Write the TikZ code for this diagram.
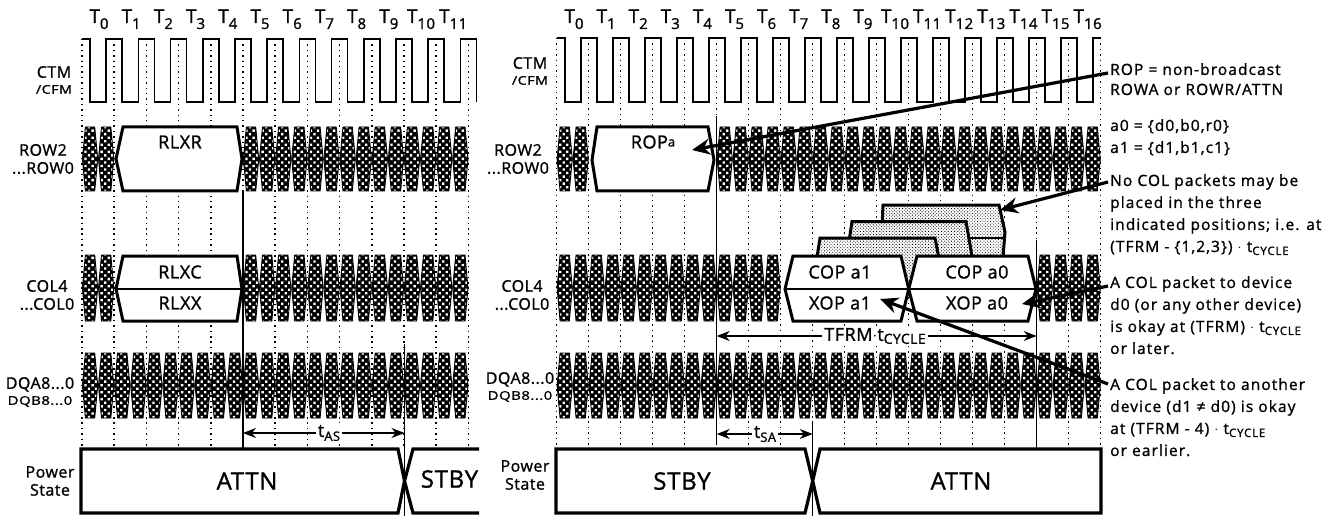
\documentclass[tikz,border=0pt]{standalone}
\usepackage{fontspec}
\usepackage{graphicx}
\setmainfont{Open Sans}[LetterSpace=3,FakeBold=1.2]
\usetikzlibrary{arrows.meta, patterns.meta}
\newcommand{\tsub}[1]{\raisebox{-6pt}{\fontsize{15pt}{15pt}\selectfont #1}}
\newcommand{\cyc}[1]{\raisebox{-3pt}{\fontsize{#1}{#1}\selectfont CYCLE}}
\newcommand{\squash}[2]{\scalebox{#1}[1]{\fontsize{12pt}{12pt}\selectfont #2}}
% one row of bus eyes: start, half period, top, bottom, list of eyes
\newcommand{\eyerow}[5]{%
  \foreach \k in {#5} {
    \pgfmathsetmacro{\xa}{#1+\k*#2}
    \draw[eye=\xa] ({\xa+0.4},{(#3+#4)/2}) -- ({\xa+3.4},#3) -- ({\xa+#2-3.4},#3) -- ({\xa+#2-0.4},{(#3+#4)/2}) -- ({\xa+#2-3.4},#4) -- ({\xa+3.4},#4) -- cycle;
  }}
\begin{document}
\begin{tikzpicture}[
    x=1pt, y=-1pt,
    base/.style={inner sep=0pt, align=center, font=\fontsize{16pt}{18pt}\selectfont},
    sig/.style={base},
    tick/.style={inner sep=0pt, anchor=base, font=\fontsize{19pt}{19pt}\selectfont},
    pkt/.style={inner sep=0pt, font=\fontsize{18pt}{18pt}\selectfont},
    state/.style={inner sep=0pt, font=\fontsize{24pt}{24pt}\selectfont},
    note/.style={inner sep=0pt, anchor=north west, align=left, font=\fontsize{15.5pt}{22pt}\selectfont\addfontfeature{LetterSpace=7}},
    gridline/.style={line width=1.5pt, dash pattern=on 1.5pt off 3.9pt},
    clock/.style={line width=1.6pt},
    eye/.style={draw=black, line width=0.9pt, preaction={fill=black}, pattern={Dots[radius=1.65pt, distance=5pt, angle=45, xshift=#1pt]}, pattern color=white},
    packet/.style={draw=black, line width=3pt, fill=white, line join=miter},
    shadebox/.style={draw=black, line width=3pt, preaction={fill=white}, pattern={Dots[radius=0.6pt, distance=2.3pt, angle=45]}, pattern color=black},
    power/.style={draw=black, line width=3.2pt, fill=white, line join=miter},
    edgeline/.style={line width=1.2pt},
    halfspan/.style={-{Stealth[length=13pt, width=10pt]}, line width=1.3pt},
    pointer/.style={-{Stealth[length=18pt, width=16pt]}, line width=3.2pt}
]
    \useasboundingbox (0,0) rectangle (1326,516);

    % --- LEFT PANEL: GRID AND CLOCK ---
    \foreach \i in {0,...,12} {
        \draw[gridline] ({82+\i*32.2},39) -- ({82+\i*32.2},449);
    }
    \foreach \i in {0,...,11} {
        \node[tick] (lt\i) at ({99+\i*32.2},23) {T\tsub{\i}};
    }
    \draw[clock] (82,39) -- (90,39) -- (90,102)
        \foreach \i in {1,...,12} { -- ({74+\i*32.2},102) -- ({74+\i*32.2},39) -- ({90+\i*32.2},39) -- ({90+\i*32.2},102) };

    % --- LEFT PANEL: BUSES ---
    \eyerow{82}{16.1}{127}{191}{0,1,10,11,...,23}
    \eyerow{82}{16.1}{255}{321}{0,1,10,11,...,23}
    \eyerow{82}{16.1}{353}{418}{0,1,...,23}

    \draw[packet] (116,159) -- (123,127) -- (237,127) -- (242,159) -- (237,191) -- (123,191) -- cycle;
    \node[pkt] (rlxr) at (180,142) {RLXR};
    \draw[packet] (116,289) -- (123,256) -- (237,256) -- (242,289) -- (237,321) -- (123,321) -- cycle;
    \draw[line width=1.2pt] (116,289) -- (242,289);
    \node[pkt] (rlxc) at (180,272) {RLXC};
    \node[pkt] (rlxx) at (180,303) {RLXX};

    % --- LEFT PANEL: POWER STATE ---
    \draw[power] (81,449) -- (398,449) -- (404.5,481) -- (398,513) -- (81,513) -- cycle;
    \draw[line width=3.2pt] (479,449) -- (413,449) -- (404.5,481) -- (413,513) -- (479,513);
    \node[state] (attnl) at (247,481) {ATTN};
    \node[state] (stbyl) at (449.5,479) {STBY};

    \coordinate (lfive) at (243,190);
    \coordinate (lfivea) at (243,449);
    \coordinate (lten) at (404.5,344);
    \coordinate (ltena) at (404.5,516);
    \draw[edgeline] (lfive) -- (lfivea);
    \draw[edgeline] (lten) -- (ltena);
    \node[inner sep=2pt, fill=white, font=\fontsize{18pt}{18pt}\selectfont] (tas) at (329,433) {t\raisebox{-4pt}{\fontsize{13pt}{13pt}\selectfont AS}};
    \draw[halfspan] (tas.west) -- (lfive |- tas);
    \draw[halfspan] (tas.east) -- (lten |- tas);

    % --- RIGHT PANEL: GRID AND CLOCK ---
    \foreach \i in {0,...,17} {
        \draw[gridline] ({556.7+\i*32},38) -- ({556.7+\i*32},449);
    }
    \foreach \i in {0,...,16} {
        \node[tick] (rt\i) at ({574+\i*32.1},23) {T\tsub{\i}};
    }
    \draw[clock] (556.7,38) -- (564.7,38) -- (564.7,102)
        \foreach \i in {1,...,16} { -- ({548.7+\i*32},102) -- ({548.7+\i*32},38) -- ({564.7+\i*32},38) -- ({564.7+\i*32},102) }
        -- (1092.7,102) -- (1092.7,38) -- (1100.7,38);

    % --- RIGHT PANEL: BUSES ---
    \eyerow{556.7}{16}{127}{191}{0,1,10,11,...,33}
    \eyerow{556.7}{16}{255}{321}{0,1,...,13,30,31,32,33}
    \eyerow{556.7}{16}{353}{418}{0,1,...,33}

    \draw[packet] (592,160) -- (597,127) -- (708,127) -- (714,160) -- (708,191) -- (597,191) -- cycle;
    \node[pkt] (ropa) at (653,142) {ROP\raisebox{2pt}{\fontsize{13pt}{13pt}\selectfont a}};

    % the three forbidden positions
    \draw[shadebox] (883,205) -- (999,205) -- (1005,232) -- (1002,270) -- (880,270) -- cycle;
    \draw[line width=2.4pt] (966,238) -- (1004,238);
    \draw[shadebox] (852,221.5) -- (966,221.5) -- (973,262) -- (846,262) -- cycle;
    \draw[shadebox] (820,238) -- (935,238) -- (945,289) -- (812,289) -- cycle;

    \draw[packet] (785,289) -- (793,256) -- (901,256) -- (908.7,289) -- (901,321) -- (793,321) -- cycle;
    \draw[packet] (908.7,289) -- (917,256) -- (1028,256) -- (1036,289) -- (1028,321) -- (917,321) -- cycle;
    \draw[line width=1.2pt] (785,289) -- (1036,289);
    \node[pkt] (copb) at (840,272) {COP a1};
    \node[pkt] (xopb) at (840,303) {XOP a1};
    \node[pkt] (copa) at (977,272) {COP a0};
    \node[pkt] (xopa) at (977,303) {XOP a0};

    % --- RIGHT PANEL: POWER STATE ---
    \draw[power] (556,449) -- (805,449) -- (812.7,481) -- (805,513) -- (556,513) -- cycle;
    \draw[power] (812.7,481) -- (820,449) -- (1101,449) -- (1101,513) -- (820,513) -- cycle;
    \node[state] (stbyr) at (682,481) {STBY};
    \node[state] (attnr) at (961,481) {ATTN};

    \coordinate (rfive) at (716.7,116);
    \coordinate (rfivea) at (716.7,443);
    \coordinate (reight) at (812.7,422);
    \coordinate (reighta) at (812.7,516);
    \coordinate (rfift) at (1036.7,240);
    \coordinate (rfifta) at (1036.7,449);
    \draw[edgeline] (rfive) -- (rfivea);
    \draw[edgeline] (reight) -- (reighta);
    \draw[edgeline] (rfift) -- (rfifta);
    \node[inner sep=2pt, fill=white, font=\fontsize{18pt}{18pt}\selectfont] (tsa) at (765,434) {t\raisebox{-4pt}{\fontsize{13pt}{13pt}\selectfont SA}};
    \draw[halfspan] (tsa.west) -- (rfive |- tsa);
    \draw[halfspan] (tsa.east) -- (reight |- tsa);
    \node[inner sep=2pt, fill=white, font=\fontsize{18pt}{18pt}\selectfont] (tfrm) at (875,336) {TFRM$\cdot$t\cyc{14pt}};
    \draw[halfspan] (tfrm.west) -- (rfive |- tfrm);
    \draw[halfspan] (tfrm.east) -- (rfift |- tfrm);

    % --- SIGNAL NAMES ---
    \node[sig] (ctml) at (54,80) {CTM\\[-2pt] \squash{1.2}{/CFM}};
    \node[sig] (rowl) at (43,159) {ROW2\\ ...ROW0};
    \node[sig] (coll) at (47,295) {COL4\\ ...COL0};
    \node[sig] (dql) at (40,392) {DQA8...0\\[-2pt] \squash{1.25}{DQB8...0}};
    \node[sig] (powl) at (50,481) {Power\\ State};
    \node[sig] (ctmr) at (530,71) {CTM\\[-2pt] \squash{1.2}{/CFM}};
    \node[sig] (rowr) at (518,159) {ROW2\\ ...ROW0};
    \node[sig] (colr) at (522,295) {COL4\\ ...COL0};
    \node[sig] (dqr) at (520,387) {DQA8...0\\[-2pt] \squash{1.25}{DQB8...0}};
    \node[sig] (powr) at (525,475) {Power\\ State};

    % --- NOTES ---
    \node[note, font=\fontsize{15.5pt}{20pt}\selectfont\addfontfeature{LetterSpace=7}] (noterop) at (1110,63) {ROP = non-broadcast\\ ROWA or ROWR/ATTN};
    \node[note] (noteaddr) at (1110,119) {a0 = \{d0,b0,r0\}\\ a1 = \{d1,b1,c1\}};
    \node[note] (notepos) at (1110,174) {No COL packets may be\\ placed in the three\\ indicated positions; i.e. at\\ (TFRM - \{1,2,3\}) $\cdot$ t\cyc{11.5pt}};
    \node[note] (noteok) at (1110,276) {A COL packet to device\\ d0 (or any other device)\\ is okay at (TFRM) $\cdot$ t\cyc{11.5pt}\\ or later.};
    \node[note] (noteother) at (1110,378) {A COL packet to another\\ device (d1 ≠ d0) is okay\\ at (TFRM - 4) $\cdot$ t\cyc{11.5pt}\\ or earlier.};

    % --- ANNOTATION ARROWS ---
    \coordinate (roptip) at (692,150);
    \coordinate (postip) at (1000,210);
    \coordinate (oktip) at (1022,304);
    \coordinate (othertip) at (880,299);
    \draw[pointer] ([xshift=-2pt,yshift=-10pt]noterop.north west) -- (roptip);
    \draw[pointer] ([xshift=-2pt,yshift=-8pt]notepos.north west) -- (postip);
    \draw[pointer] ([xshift=-2pt,yshift=-10pt]noteok.north west) -- (oktip);
    \draw[pointer] ([xshift=-2pt,yshift=-6pt]noteother.north west) -- (othertip);

\end{tikzpicture}
\end{document}
